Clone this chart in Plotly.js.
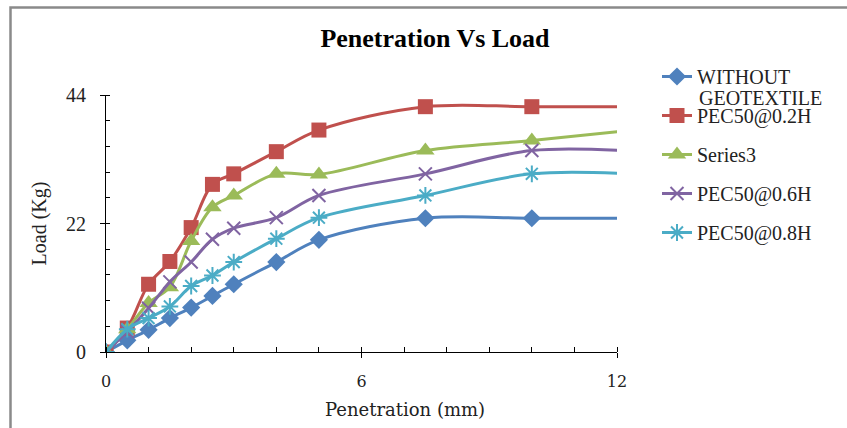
<!DOCTYPE html>
<html>
<head>
<meta charset="utf-8">
<script src="https://cdn.plot.ly/plotly-3.0.1.min.js"></script>
<style>
  html, body { margin: 0; padding: 0; background: #fff; }
  #chart { width: 847px; height: 428px; }
</style>
</head>
<body>
<div id="chart"></div>
<script>
// ---- data ----
var penetration = [0, 0.5, 1, 1.5, 2, 2.5, 3, 4, 5, 7.5, 10, 12.5];
var withoutGeotextile = [0, 2.0, 3.8, 5.8, 7.6, 9.6, 11.6, 15.4, 19.2, 22.9, 22.9, 22.9];
var pec50_02H = [0, 4.1, 11.6, 15.5, 21.3, 28.7, 30.5, 34.3, 38.0, 42.0, 42.0, 42.0];
var series3 = [0, 3.9, 8.4, 11.1, 19.0, 24.8, 26.8, 30.5, 30.4, 34.5, 36.2, 38.1];
var pec50_06H = [0, 3.5, 7.5, 12.0, 15.4, 19.3, 21.2, 23.0, 26.8, 30.5, 34.5, 34.3];
var pec50_08H = [0, 3.9, 5.8, 7.8, 11.3, 13.1, 15.4, 19.4, 23.0, 26.8, 30.5, 30.4];
var seriesNames = ['WITHOUT', 'PEC50@0.2H', 'Series3', 'PEC50@0.6H', 'PEC50@0.8H'];
var xTickVals = [0, 6, 12];
var yTickVals = [0, 22, 44];

// ---- layout geometry (pixels) ----
var W = 847, H = 428;
var M = {l: 106, r: 230, t: 95, b: 76};
var PW = W - M.l - M.r, PH = H - M.t - M.b;
function px(x) { return (x - M.l) / PW; }
function py(y) { return (H - M.b - y) / PH; }

var serif = "'Liberation Serif', 'Times New Roman', serif";
var serif2 = "'DejaVu Serif', serif";

var styles = [
  {color: '#4F81BD', symbol: 'diamond', size: 14},
  {color: '#C0504D', symbol: 'square', size: 15},
  {color: '#9BBB59', symbol: 'triangle-up', size: 16},
  {color: '#8064A2', symbol: 'x-thin-open', size: 13},
  {color: '#4BACC6', symbol: 'asterisk-open', size: 14}
];
var ys = [withoutGeotextile, pec50_02H, series3, pec50_06H, pec50_08H];

var traces = ys.map(function (y, i) {
  var s = styles[i];
  var open = s.symbol.indexOf('open') >= 0;
  return {
    x: penetration, y: y, name: seriesNames[i], type: 'scatter', mode: 'lines+markers',
    legendgroup: 'g' + i,
    line: {color: s.color, width: 3, shape: 'spline', smoothing: 1},
    marker: {symbol: s.symbol, size: s.size, color: s.color,
             line: {color: s.color, width: open ? 2 : 0}},
    cliponaxis: true
  };
});

var layout = {
  width: W, height: H,
  margin: M,
  paper_bgcolor: 'rgba(0,0,0,0)', plot_bgcolor: 'rgba(0,0,0,0)',
  showlegend: true,
  title: {
    text: '<b>Penetration Vs Load</b>',
    font: {family: serif, size: 26, color: '#000'},
    xref: 'container', yref: 'container',
    x: 435 / W, xanchor: 'center', y: 1 - 38 / H, yanchor: 'middle'
  },
  xaxis: {
    range: [0, 12], showgrid: false, zeroline: false,
    showline: true, linecolor: '#000', linewidth: 1,
    tickmode: 'array', tickvals: xTickVals, ticktext: xTickVals.map(String),
    ticks: 'outside', ticklen: 5, tickcolor: '#000',
    ticklabelstandoff: 10,
    tickfont: {family: serif2, size: 16, color: '#222'},
    minor: {dtick: 1, ticks: 'inside', ticklen: 5, tickcolor: '#000', showgrid: false},
    automargin: false
  },
  yaxis: {
    range: [0, 44], showgrid: false, zeroline: false,
    showline: true, linecolor: '#000', linewidth: 1,
    tickmode: 'array', tickvals: yTickVals, ticktext: yTickVals.map(String),
    ticks: 'outside', ticklen: 5, tickcolor: '#000',
    ticklabelstandoff: 10,
    tickfont: {family: serif, size: 20, color: '#222'},
    minor: {dtick: 4.4, ticks: 'inside', ticklen: 4, tickcolor: '#000', showgrid: false},
    title: {text: 'Load (Kg)', font: {family: serif, size: 20, color: '#222'}, standoff: 14},
    automargin: false
  },
  legend: {
    x: px(657), xanchor: 'left', y: py(57), yanchor: 'top',
    font: {family: serif, size: 20, color: '#222'},
    bgcolor: 'rgba(0,0,0,0)', borderwidth: 0,
    tracegroupgap: 10, valign: 'middle'
  },
  annotations: [
    {text: 'GEOTEXTILE', xref: 'paper', yref: 'paper', x: px(697), y: py(98),
     xanchor: 'left', yanchor: 'middle', showarrow: false,
     font: {family: serif, size: 20, color: '#222'}},
    {text: 'Penetration (mm)', xref: 'paper', yref: 'paper', x: px(405), y: py(409),
     xanchor: 'center', yanchor: 'middle', showarrow: false,
     font: {family: serif2, size: 18, color: '#222'}}
  ],
  shapes: [
    {type: 'rect', xref: 'paper', yref: 'paper', layer: 'below',
     x0: px(10.5), x1: px(900), y0: py(500), y1: py(7.5),
     line: {color: '#8a8a8a', width: 2.5}, fillcolor: 'rgba(0,0,0,0)'}
  ]
};

Plotly.newPlot('chart', traces, layout, {displayModeBar: false, staticPlot: true});
</script>
</body>
</html>
